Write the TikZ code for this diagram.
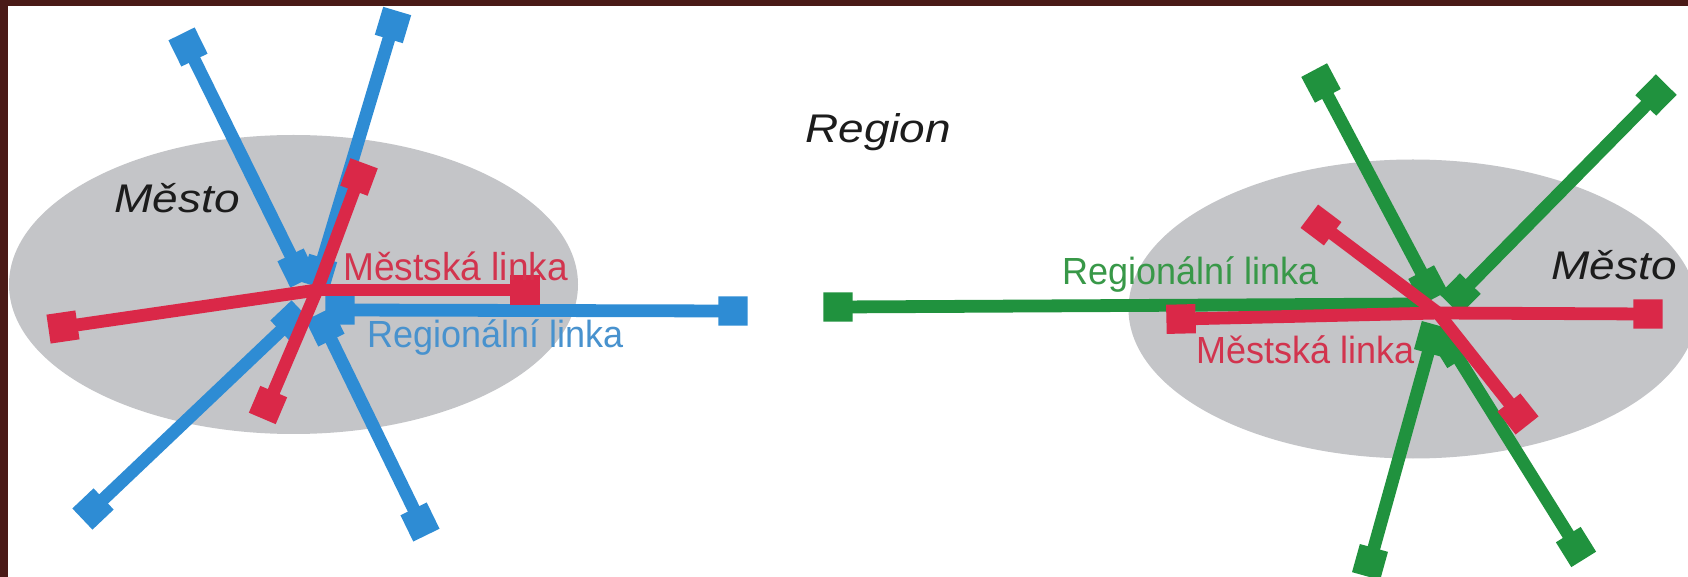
\documentclass[tikz,border=0pt]{standalone}
\usepackage{fontspec}
\setmainfont{Liberation Sans}
\usepackage{graphicx}
\usetikzlibrary{shapes.geometric}

\definecolor{frame}{RGB}{74,26,23}
\definecolor{cityfill}{RGB}{196,197,200}
\definecolor{regblue}{RGB}{46,140,212}
\definecolor{cityred}{RGB}{218,40,72}
\definecolor{reggreen}{RGB}{32,146,62}
\definecolor{bluetext}{RGB}{72,146,206}
\definecolor{redtext}{RGB}{210,52,78}
\definecolor{greentext}{RGB}{56,152,72}
\definecolor{inktext}{RGB}{28,28,28}

\begin{document}
\begin{tikzpicture}[x=0.5pt,y=-0.5pt,
  city/.style={ellipse, fill=cityfill, draw=none, minimum width=284.5pt, minimum height=149.5pt, inner sep=0pt},
  line/.style={line width=6.4pt, draw=#1},
  sq/.style={rectangle, minimum size=14.6pt, inner sep=0pt, sloped, fill=#1},
  lbl/.style={anchor=base west, inner sep=0pt, font=\fontsize{18pt}{20pt}\selectfont, text=#1},
  title/.style={anchor=base west, inner sep=0pt, font=\fontsize{20pt}{22pt}\selectfont\itshape, text=inktext}]

\useasboundingbox (0,0) rectangle (1688,577);
\clip (0,0) rectangle (1688,577);
\fill[white] (0,0) rectangle (1688,577);

% the two towns
\node[city] (cityL) at (293.5,284.5) {};
\node[city] (cityR) at (1413,309) {};

% ---- left town: regional lines (blue) ----
\coordinate (b1in) at (297,268);  \coordinate (b1out) at (188,47);
\coordinate (b2in) at (319,272);  \coordinate (b2out) at (393,25);
\coordinate (b3in) at (340,310);  \coordinate (b3out) at (733,311);
\coordinate (b4in) at (325,327);  \coordinate (b4out) at (420,522);
\coordinate (b5in) at (291,321);  \coordinate (b5out) at (93,509);
\foreach \i in {1,...,5}
  \draw[line=regblue] (b\i in) -- (b\i out)
    node[at start, sq=regblue] {} node[at end, sq=regblue] {};

% ---- left town: city lines (red) ----
\coordinate (hubL) at (317,290);
\coordinate (r1) at (63,327);
\coordinate (r2) at (525,290);
\coordinate (r3) at (359,177);
\coordinate (r4) at (268,405);
\foreach \i in {1,...,4}
  \draw[line=cityred] (hubL) -- (r\i) node[at end, sq=cityred] {};

% ---- right town: regional lines (green) ----
\coordinate (g1in) at (1422,304); \coordinate (g1out) at (838,307);
\draw[line=reggreen] (g1in) -- (g1out) node[at end, sq=reggreen] {};
\coordinate (g2in) at (1428,285); \coordinate (g2out) at (1321,83);
\coordinate (g3in) at (1460,294); \coordinate (g3out) at (1656,95);
\coordinate (g4in) at (1432,339); \coordinate (g4out) at (1370,562);
\coordinate (g5in) at (1452,348); \coordinate (g5out) at (1576,547);
\foreach \i in {2,...,5}
  \draw[line=reggreen] (g\i in) -- (g\i out)
    node[at start, sq=reggreen] {} node[at end, sq=reggreen] {};

% ---- right town: city lines (red) ----
\coordinate (hubR) at (1438,313);
\coordinate (r5) at (1181,319);
\coordinate (r6) at (1648,314);
\coordinate (r7) at (1321,225);
\coordinate (r8) at (1518,414);
\foreach \i in {5,...,8}
  \draw[line=cityred] (hubR) -- (r\i) node[at end, sq=cityred] {};

% ---- labels ----
\node[title] (mestoL) at (114,213) {\scalebox{1.15}[1]{Město}};
\node[title] (mestoR) at (1551,280) {\scalebox{1.15}[1]{Město}};
\node[title] (region) at (805,143) {\scalebox{1.15}[1]{Region}};
\node[lbl=redtext]   (mlinkL) at (343,281)  {\scalebox{1.03}[1.08]{Městská linka}};
\node[lbl=bluetext]  (rlinkL) at (367,348)  {\scalebox{1}[1.05]{Regionální linka}};
\node[lbl=greentext] (rlinkR) at (1062,285) {\scalebox{1}[1.05]{Regionální linka}};
\node[lbl=redtext]   (mlinkR) at (1196,364) {\scalebox{1}[1.05]{Městská linka}};

% dark frame along the top and left edges
\fill[frame] (0,0) rectangle (1688,6);
\fill[frame] (0,0) rectangle (8,577);
\end{tikzpicture}
\end{document}
